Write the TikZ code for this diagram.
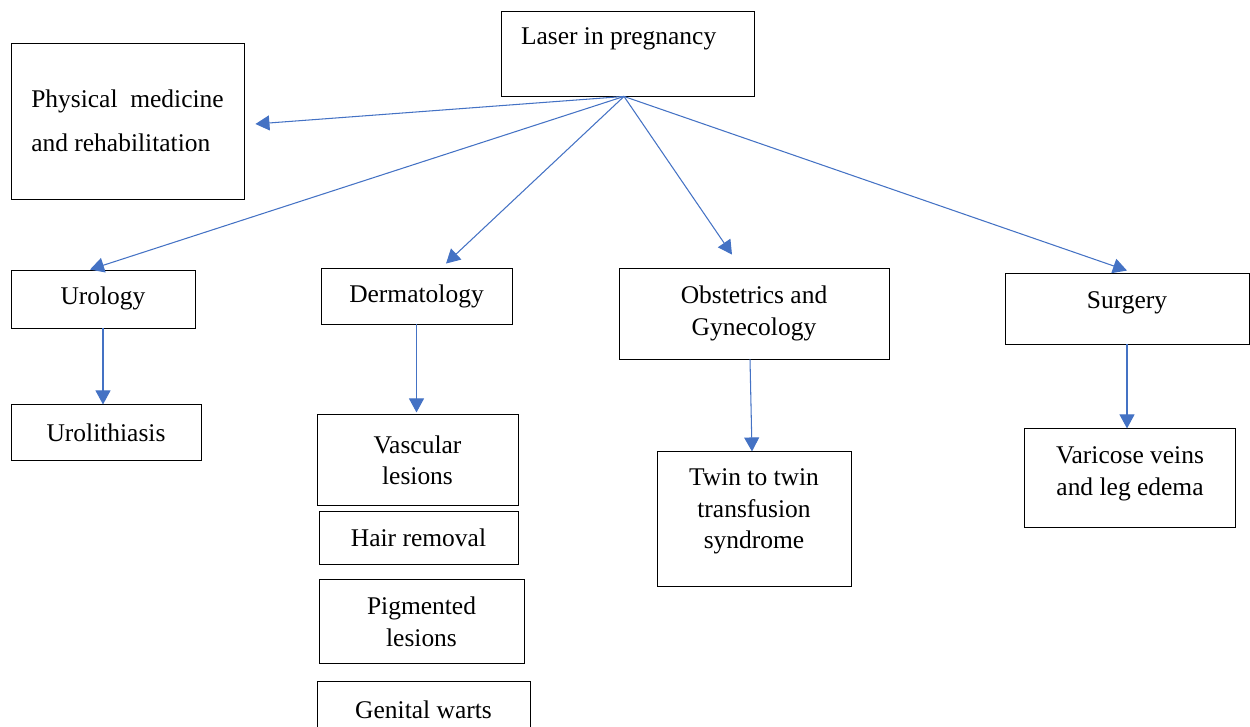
\documentclass[tikz,border=0pt]{standalone}
\usepackage{fontspec}
\setmainfont{Liberation Serif}
\usetikzlibrary{positioning,arrows.meta}
\definecolor{linkblue}{HTML}{4472C4}

\begin{document}
\begin{tikzpicture}[box/.style={draw, line width=0.5pt, align=center, inner sep=0pt, font=\fontsize{14.5}{18}\selectfont},link/.style={draw=linkblue, line width=0.6pt, -{Triangle[length=0.28cm,width=0.3cm]}}] %
    \useasboundingbox (0,0) rectangle (25,-14.52) ; %
    \node[box, minimum width=5.06cm, minimum height=1.70cm, text depth=20pt, align=flush left, text width=4.26cm] (laser) at (12.55,-1.07) {Laser in pregnancy} ; %
    \node[box, minimum width=4.66cm, minimum height=3.12cm, align=left, font=\fontsize{14.5}{25}\selectfont] (physical) at (2.55,-2.42) {Physical\hspace{0.5em}medicine\\and rehabilitation} ; %
    \node[box, minimum width=3.68cm, minimum height=1.16cm, text depth=4pt] (urology) at (2.06,-5.98) {Urology} ; %
    \node[box, minimum width=3.82cm, minimum height=1.12cm] (derm) at (8.33,-5.92) {Dermatology} ; %
    \node[box, minimum width=5.40cm, minimum height=1.82cm] (obgyn) at (15.08,-6.27) {Obstetrics and\\Gynecology} ; %
    \node[box, minimum width=4.88cm, minimum height=1.42cm, text depth=10pt] (surgery) at (22.54,-6.17) {Surgery} ; %
    \node[box, minimum width=3.80cm, minimum height=1.12cm, below=1.52cm of urology, xshift=0.06cm] (urolith) {Urolithiasis} ; %
    \node[box, minimum width=4.02cm, minimum height=1.82cm, below=1.80cm of derm, xshift=0.02cm] (vascular) {Vascular\\lesions} ; %
    \node[box, minimum width=3.98cm, minimum height=1.06cm, below=0.10cm of vascular, xshift=0.02cm] (hair) {Hair removal} ; %
    \node[box, minimum width=4.10cm, minimum height=1.68cm, below=0.28cm of hair, xshift=0.06cm] (pigmented) {Pigmented\\lesions} ; %
    \node[box, minimum width=4.26cm, minimum height=1.12cm, below=0.34cm of pigmented, xshift=0.04cm] (warts) {Genital warts} ; %
    \node[box, minimum width=3.88cm, minimum height=2.70cm, text depth=12pt, below=1.84cm of obgyn] (twin) {Twin to twin\\transfusion\\syndrome} ; %
    \node[box, minimum width=4.22cm, minimum height=1.98cm, text depth=8pt, below=1.68cm of surgery, xshift=0.06cm] (varicose) {Varicose veins\\and leg edema} ; %
    \coordinate (hub) at ([xshift=-0.07cm]laser.south) ; %
    \draw[link] (hub)--([xshift=0.22cm,yshift=-0.06cm]physical.east) ; %
    \draw[link] (hub)--([xshift=-0.26cm]urology.north) ;
    \draw[link] (hub)--([xshift=0.59cm,yshift=0.08cm]derm.north) ;
    \draw[link] (hub)--([xshift=-0.44cm,yshift=0.26cm]obgyn.north) ;
    \draw[link] (hub)--([yshift=0.04cm]surgery.north) ;
    \draw[link] (urology.south)--(urology.south |- urolith.north) ; %
    \draw[link] (derm.south)--([yshift=0.04cm]derm.south |- vascular.north) ;
    \draw[link] ([xshift=-0.08cm]obgyn.south)--([xshift=-0.04cm]twin.north) ;
    \draw[link] (surgery.south)--(surgery.south |- varicose.north) ;
  \end{tikzpicture}
\end{document}
